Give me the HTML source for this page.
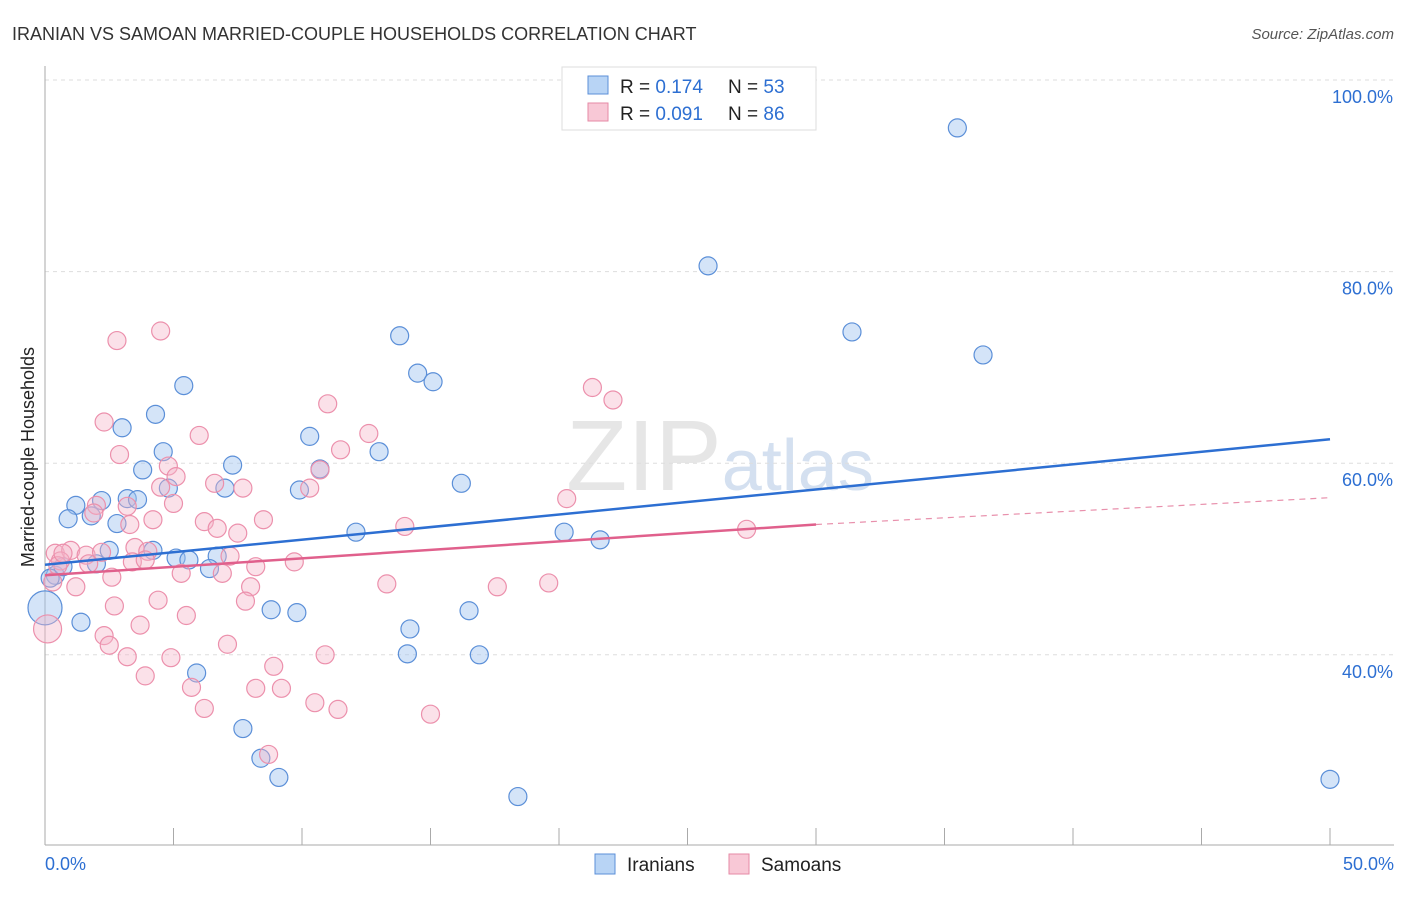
<!DOCTYPE html>
<html><head><meta charset="utf-8"><style>
body{margin:0;background:#fff;font-family:"Liberation Sans",sans-serif}
svg text{font-family:"Liberation Sans",sans-serif}
</style></head><body>
<svg id="chart" width="1406" height="892">
<text x="12" y="40" font-size="18" fill="#333">IRANIAN VS SAMOAN MARRIED-COUPLE HOUSEHOLDS CORRELATION CHART</text>
<text x="1394" y="39" font-size="15" fill="#555" text-anchor="end" font-style="italic">Source: ZipAtlas.com</text>
<text x="720" y="490" font-size="100" fill="#e6e6e6" text-anchor="middle" font-family="Liberation Serif">ZIP<tspan fill="#d4e0f0" font-family="Liberation Sans" font-size="72">atlas</tspan></text>
<g id="grid"></g>
<g id="axes"></g>
<g id="pts"></g>
<g id="lines"></g>
<text transform="translate(34,457) rotate(-90)" font-size="18" fill="#222" text-anchor="middle">Married-couple Households</text>
<g>
<rect x="562" y="67" width="254" height="63" fill="#fff" stroke="#ddd"/>
<rect x="588" y="76" width="20" height="18" fill="#b8d4f5" stroke="#5b8fd8"/>
<text x="620" y="93" font-size="19" fill="#222">R = <tspan fill="#2d6fd2">0.174</tspan><tspan x="728">N = </tspan><tspan fill="#2d6fd2">53</tspan></text>
<rect x="588" y="103" width="20" height="18" fill="#f8c8d6" stroke="#e68aa6"/>
<text x="620" y="120" font-size="19" fill="#222">R = <tspan fill="#2d6fd2">0.091</tspan><tspan x="728">N = </tspan><tspan fill="#2d6fd2">86</tspan></text>
</g>
<g>
<rect x="595" y="854" width="20" height="20" fill="#b8d4f5" stroke="#5b8fd8"/>
<text x="627" y="871" font-size="19" fill="#222">Iranians</text>
<rect x="729" y="854" width="20" height="20" fill="#f8c8d6" stroke="#e68aa6"/>
<text x="761" y="871" font-size="19" fill="#222">Samoans</text>
</g>
</svg>
<script>
const xTicks=[0,50];
const yTicks=[40,60,80,100];
const iranX=[35.5,25.8,31.4,36.5,13.8,14.5,15.1,5.4,4.3,3.0,4.6,13.0,10.3,7.3,3.8,10.7,16.2,4.8,7.0,9.9,1.2,2.2,3.2,3.6,0.9,1.8,2.8,12.1,20.2,21.6,4.2,2.5,5.1,6.7,5.6,6.4,2.0,0.4,0.2,0.7,0.0,1.4,8.8,9.8,14.2,16.5,14.1,16.9,5.9,7.7,8.4,9.1,18.4,50.0];
const iranY=[95.0,80.6,73.7,71.3,73.3,69.4,68.5,68.1,65.1,63.7,61.2,61.2,62.8,59.8,59.3,59.4,57.9,57.4,57.4,57.2,55.6,56.1,56.3,56.2,54.2,54.5,53.7,52.8,52.8,52.0,50.9,50.9,50.1,50.3,49.9,49.0,49.5,48.3,48.0,49.2,44.9,43.4,44.7,44.4,42.7,44.6,40.1,40.0,38.1,32.3,29.2,27.2,25.2,27.0];
const samX=[4.5,2.8,2.3,6.0,2.9,11.0,12.6,11.5,4.8,5.1,6.6,7.7,4.5,5.0,2.0,3.2,1.9,8.5,4.2,6.2,3.3,6.7,7.5,14.0,20.3,21.3,22.1,10.3,10.7,27.3,3.5,0.4,1.0,1.6,2.2,0.6,4.0,3.4,3.9,7.2,8.2,9.7,5.3,6.9,2.6,1.2,8.0,13.3,17.6,19.6,4.4,7.8,2.7,5.5,3.7,2.3,2.5,7.1,3.2,4.9,10.9,3.9,8.9,5.7,8.2,9.2,6.2,10.5,11.4,15.0,8.7,0.3,0.1,0.5,1.7,0.7];
const samY=[73.8,72.8,64.3,62.9,60.9,66.2,63.1,61.4,59.7,58.6,57.9,57.4,57.5,55.8,55.6,55.5,54.8,54.1,54.1,53.9,53.6,53.2,52.7,53.4,56.3,67.9,66.6,57.4,59.3,53.1,51.2,50.6,50.9,50.4,50.7,49.8,50.8,49.7,49.9,50.3,49.2,49.7,48.5,48.5,48.1,47.1,47.1,47.4,47.1,47.5,45.7,45.6,45.1,44.1,43.1,42.0,41.0,41.1,39.8,39.7,40.0,37.8,38.8,36.6,36.5,36.5,34.4,35.0,34.3,33.8,29.6,47.6,42.7,49.3,49.5,50.6];
const iranBig=[40], samBig=[72];
const X=v=>45+v*25.7, Y=v=>80+(100-v)*9.58;
const ns="http://www.w3.org/2000/svg";
function mk(t,a,p){const e=document.createElementNS(ns,t);for(const k in a)e.setAttribute(k,a[k]);document.getElementById(p).appendChild(e);return e;}
yTicks.forEach(t=>{
 const l=mk('line',{x1:45,x2:1394,y1:Y(t),y2:Y(t),stroke:'#ddd','stroke-dasharray':'4,4'},'grid');
 
 
 const tx=mk('text',{x:1393,y:Y(t)+23,'font-size':18,fill:'#2d6fd2','text-anchor':'end'},'axes');
 tx.textContent=t.toFixed(1)+'%';
 
 
});
const ax=mk('line',{x1:45,x2:45,y1:66,y2:845,stroke:'#aaa'},'axes');


const bx=mk('line',{x1:45,x2:1394,y1:845,y2:845,stroke:'#aaa'},'axes');


for(let i=0;i<=10;i++){const t=mk('line',{x1:X(i*5),x2:X(i*5),y1:828,y2:845,stroke:'#aaa'},'axes');
 
 }
xTicks.forEach((t,i)=>{const tx=mk('text',{x:i?1394:45,y:870,'font-size':18,fill:'#2d6fd2','text-anchor':i?'end':'start'},'axes');
 tx.textContent=t.toFixed(1)+'%';
 
 });
iranX.forEach((v,i)=>{const c=mk('circle',{cx:X(v),cy:Y(iranY[i]),r:iranBig.includes(i)?17:9,fill:'rgba(160,196,240,0.45)',stroke:'#5b8fd8','stroke-width':1.2},'pts');
 
 });
samX.forEach((v,i)=>{const c=mk('circle',{cx:X(v),cy:Y(samY[i]),r:samBig.includes(i)?14:9,fill:'rgba(246,180,200,0.4)',stroke:'#ec90ac','stroke-width':1.2},'pts');
 
 });
const bl=mk('line',{x1:X(0),y1:Y(49.4),x2:X(50),y2:Y(62.5),stroke:'#2d6fd2','stroke-width':2.5},'lines');


const pl=mk('line',{x1:X(0),y1:Y(48.3),x2:X(30),y2:Y(53.6),stroke:'#e0608c','stroke-width':2.5},'lines');


const pd=mk('line',{x1:X(30),y1:Y(53.6),x2:X(50),y2:Y(56.4),stroke:'#e890ac','stroke-width':1.2,'stroke-dasharray':'6,5'},'lines');


</script>
</body></html>
